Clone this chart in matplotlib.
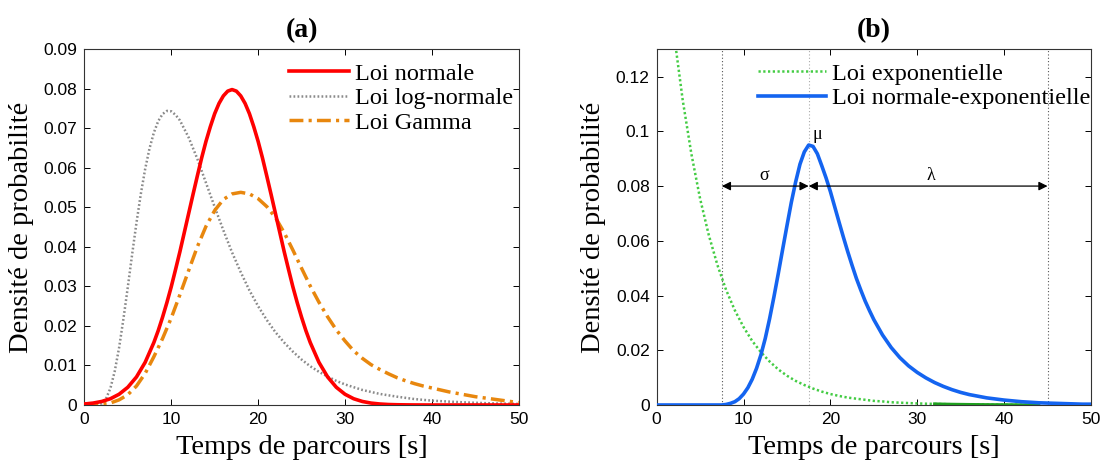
#!/usr/bin/env python3

import matplotlib
matplotlib.use("Agg")
import matplotlib.pyplot as plt

# ---- panel (a) : three fitted densities ----
t_normal = [0, 1, 2, 3, 4, 5, 6, 7, 8, 8.5, 9, 9.5, 10, 10.5, 11, 11.5, 12, 12.5, 13, 13.5, 14, 14.5,
            15, 15.5, 16, 16.5, 17, 17.5, 18, 18.5, 19, 19.5, 20, 20.5, 21, 21.5, 22, 22.5, 23, 23.5,
            24, 24.5, 25, 25.5, 26, 27, 28, 29, 30, 31, 32, 33, 34, 35, 36, 37, 38, 40, 45, 50]
d_normal = [0.00025, 0.00048, 0.00089, 0.00158, 0.00272, 0.00448, 0.00709, 0.0108, 0.0158, 0.0188,
            0.0222, 0.0259, 0.0299, 0.0343, 0.0388, 0.0436, 0.0484, 0.0532, 0.0579, 0.0625, 0.0667,
            0.0704, 0.0737, 0.0763, 0.0782, 0.0794, 0.0798, 0.0794, 0.0782, 0.0763, 0.0737, 0.0704,
            0.0667, 0.0625, 0.0579, 0.0532, 0.0484, 0.0436, 0.0388, 0.0343, 0.0299, 0.0259, 0.0222,
            0.0188, 0.0158, 0.0108, 0.00709, 0.00448, 0.00272, 0.00158, 0.00089, 0.00048, 0.00025,
            0.00012, 0.00006, 0.00003, 0.00001, 0, 0, 0]

t_lognormal = [0, 1, 1.5, 2, 2.5, 3, 3.5, 4, 4.5, 5, 5.5, 6, 6.5, 7, 7.5, 8, 8.5, 9, 9.5, 10, 10.5,
               11, 12, 13, 14, 15, 16, 17, 18, 19, 20, 21, 22, 23, 24, 25, 26, 27, 28, 29, 30,
               32, 34, 36, 38, 40, 42, 44, 46, 48, 50]
d_lognormal = [0, 0, 0.00005, 0.00041, 0.00162, 0.00424, 0.00857, 0.0145, 0.0218, 0.0298, 0.0381,
               0.0461, 0.0534, 0.0597, 0.0649, 0.0689, 0.0718, 0.0736, 0.0744, 0.0743, 0.0734,
               0.0720, 0.0677, 0.0623, 0.0562, 0.0501, 0.0442, 0.0386, 0.0336, 0.0290, 0.0250,
               0.0215, 0.0184, 0.0158, 0.0135, 0.0115, 0.0098, 0.0084, 0.0072, 0.0061, 0.0052,
               0.0038, 0.0028, 0.0021, 0.0015, 0.0011, 0.00085, 0.00064, 0.00048, 0.00036, 0.00028]

t_gamma = list(range(0, 51))
d_gamma = [0.0002, 0.0002, 0.0003, 0.0005, 0.0013, 0.0026, 0.0048, 0.0080, 0.0122, 0.0168,
           0.0220, 0.0279, 0.0340, 0.0400, 0.0452, 0.0492, 0.0520, 0.0534, 0.0538, 0.0534,
           0.0522, 0.0502, 0.0474, 0.0436, 0.0392, 0.0346, 0.0301, 0.0260, 0.0223, 0.0190,
           0.0162, 0.0137, 0.0118, 0.0102, 0.0090, 0.0079, 0.0069, 0.0061, 0.0054, 0.0048,
           0.0043, 0.0038, 0.0033, 0.0029, 0.0025, 0.0021, 0.0018, 0.0015, 0.0012, 0.0009, 0.0006]

# ---- panel (b) : exponential and ex-gaussian ----
t_expo = list(range(0, 45))
d_expo = [0.2, 0.1646, 0.1354, 0.1114, 0.0917, 0.0754, 0.0621, 0.0511, 0.0420, 0.0346,
          0.0285, 0.0234, 0.0193, 0.0159, 0.0130, 0.0107, 0.0088, 0.0073, 0.0060, 0.0049,
          0.0040, 0.0033, 0.0027, 0.0023, 0.0019, 0.0015, 0.0013, 0.0010, 0.00085, 0.0007,
          0.00058, 0.00047, 0.00039, 0.00032, 0.00026, 0.00022, 0.00018, 0.00015, 0.00012,
          0.0001, 0.00008, 0.00007, 0.00005, 0.00004, 0.00004]

t_exgauss = [0, 7, 7.5, 8, 8.5, 9, 9.5, 10, 10.5, 11, 11.5, 12, 12.5, 13, 13.5, 14, 14.5, 15, 15.5,
             16, 16.5, 17, 17.5, 18, 18.5, 19, 19.5, 20, 20.5, 21, 21.5, 22, 22.5, 23, 23.5, 24,
             24.5, 25, 26, 27, 28, 29, 30, 31, 32, 33, 34, 35, 36, 37, 38, 39, 40, 41, 42, 43,
             44, 45, 46, 47, 48, 49, 50]
d_exgauss = [0, 0, 0, 0.0002, 0.0006, 0.0012, 0.0023, 0.0040, 0.0063, 0.0094, 0.0134, 0.0183,
             0.0243, 0.0315, 0.0395, 0.0480, 0.0568, 0.0655, 0.0740, 0.0815, 0.0880, 0.0925,
             0.0950, 0.0945, 0.0918, 0.0875, 0.0830, 0.0780, 0.0724, 0.0668, 0.0613, 0.0560,
             0.0510, 0.0462, 0.0420, 0.0380, 0.0345, 0.0312, 0.0256, 0.0210, 0.0173, 0.0143,
             0.0119, 0.0099, 0.0082, 0.0068, 0.0056, 0.0046, 0.0038, 0.0032, 0.0026, 0.0022,
             0.0018, 0.0015, 0.0012, 0.0010, 0.0008, 0.0007, 0.0006, 0.0005, 0.0004, 0.0003, 0.0003]

# parameters marked on panel (b)
mu = 17.5
sigma_edge = 7.5
lambda_edge = 45
arrow_level = 0.08

xticks = [0, 10, 20, 30, 40, 50]
yticks_a = [0, 0.01, 0.02, 0.03, 0.04, 0.05, 0.06, 0.07, 0.08, 0.09]
ylabels_a = ["0", "0.01", "0.02", "0.03", "0.04", "0.05", "0.06", "0.07", "0.08", "0.09"]
yticks_b = [0, 0.02, 0.04, 0.06, 0.08, 0.1, 0.12]
ylabels_b = ["0", "0.02", "0.04", "0.06", "0.08", "0.1", "0.12"]

SERIF = "Liberation Serif"
SANS = "Liberation Sans"


def style_axes(ax, yt, yl, ymax):
    ax.set_xlim(0, 50)
    ax.set_ylim(0, ymax)
    ax.set_xticks(xticks)
    ax.set_xticklabels([str(t) for t in xticks], fontfamily=SANS, fontsize=12.5)
    ax.set_yticks(yt)
    ax.set_yticklabels(yl, fontfamily=SANS, fontsize=12.5)
    ax.tick_params(direction="in", length=4, width=0.7, top=True, right=True, pad=5)
    for s in ax.spines.values():
        s.set_linewidth(0.8)
        s.set_color("#333333")
    ax.set_xlabel("Temps de parcours [s]", fontfamily=SERIF, fontsize=20.5, labelpad=6)
    ax.set_ylabel("Densité de probabilité", fontfamily=SERIF, fontsize=20.5, labelpad=7)


fig = plt.figure(figsize=(11.04, 4.62), dpi=100)
ax1 = fig.add_axes([0.0764, 0.1234, 0.3935, 0.770])
ax2 = fig.add_axes([0.5948, 0.1234, 0.3934, 0.770])

# (a)
ax1.plot(t_normal, d_normal, color="#ff0000", lw=2.6, label="Loi normale", zorder=4)
ax1.plot(t_lognormal, d_lognormal, color="#8a8a8a", lw=1.8, linestyle=(0, (0.7, 0.9)),
         label="Loi log-normale", zorder=3)
ax1.plot(t_gamma, d_gamma, color="#e8870e", lw=2.5, linestyle=(0, (4.0, 1.5, 0.9, 1.5)),
         label="Loi Gamma", zorder=3)
style_axes(ax1, yticks_a, ylabels_a, 0.09)
ax1.set_title("(a)", fontfamily=SERIF, fontweight="bold", fontsize=20, pad=9)
ax1.legend(loc="upper right", bbox_to_anchor=(0.988, 0.962), frameon=False,
           prop={"family": SERIF, "size": 17.5}, borderpad=0, borderaxespad=0,
           handlelength=2.5, handletextpad=0.25, labelspacing=0.1)

# (b)
for xv, col in [(sigma_edge, "#555555"), (mu, "#aaaaaa"), (lambda_edge, "#555555")]:
    ax2.axvline(xv, color=col, lw=0.8, linestyle=(0, (1, 2)), zorder=1)
ax2.plot(t_expo, d_expo, color="#44cc44", lw=1.8, linestyle=(0, (0.9, 1.0)),
         label="Loi exponentielle", zorder=2)
ax2.plot(t_expo[32:], d_expo[32:], color="#1fa01f", lw=2.2, zorder=2)
ax2.plot(t_exgauss, d_exgauss, color="#1464f0", lw=2.6, label="Loi normale-exponentielle", zorder=4)
arrow = dict(arrowstyle="<|-|>", color="k", lw=0.9, mutation_scale=13, shrinkA=0, shrinkB=0)
ax2.annotate("", xy=(sigma_edge, arrow_level), xytext=(mu, arrow_level), arrowprops=arrow, zorder=5)
ax2.annotate("", xy=(mu, arrow_level), xytext=(lambda_edge, arrow_level), arrowprops=arrow, zorder=5)
ax2.text((sigma_edge + mu) / 2 - 0.1, arrow_level + 0.004, "σ", fontfamily=SERIF, fontsize=13,
         ha="center", va="center")
ax2.text((mu + lambda_edge) / 2 + 0.3, arrow_level + 0.004, "λ", fontfamily=SERIF, fontsize=13,
         ha="center", va="center")
ax2.text(mu + 1.0, 0.099, "μ", fontfamily=SERIF, fontsize=13, ha="center", va="center")
style_axes(ax2, yticks_b, ylabels_b, 0.13)
ax2.set_title("(b)", fontfamily=SERIF, fontweight="bold", fontsize=20, pad=9)
ax2.legend(loc="upper right", bbox_to_anchor=(0.998, 0.962), frameon=False,
           prop={"family": SERIF, "size": 17.5}, borderpad=0, borderaxespad=0,
           handlelength=2.8, handletextpad=0.25, labelspacing=0.1)

fig.savefig("out.png", dpi=100)
